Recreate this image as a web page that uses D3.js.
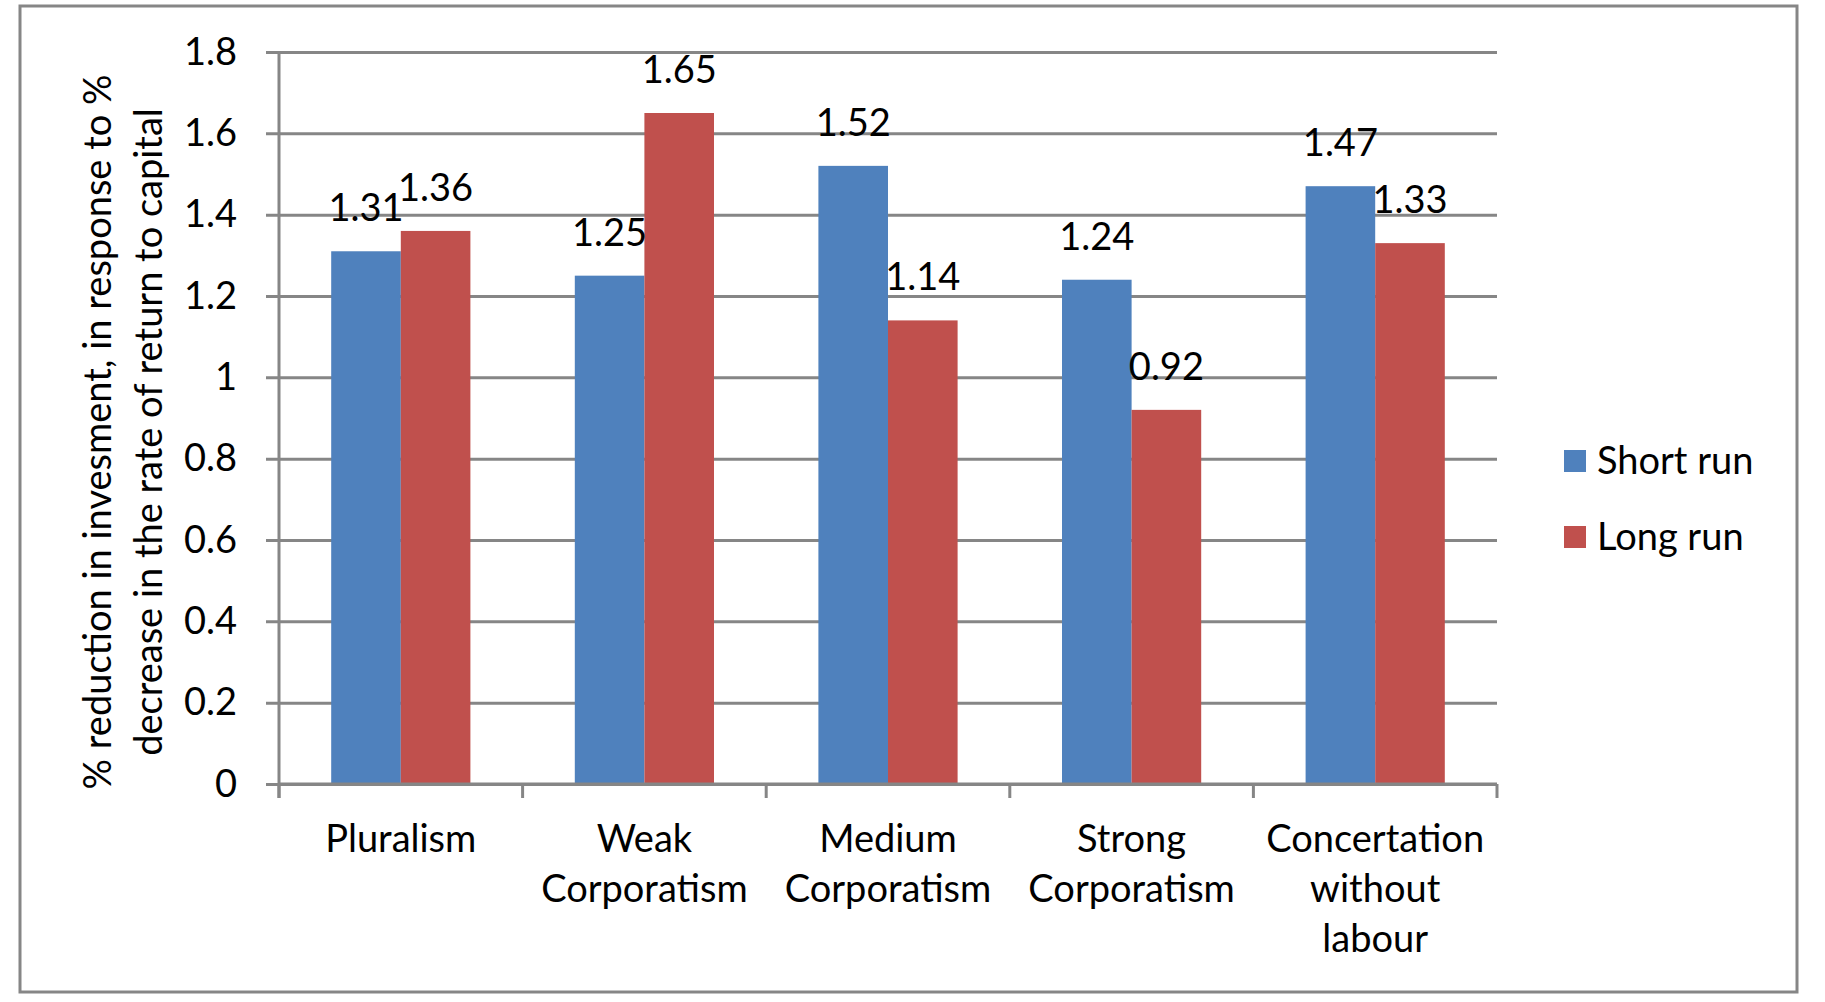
<!DOCTYPE html>
<html>
<head>
<meta charset="utf-8">
<script src="https://cdn.jsdelivr.net/npm/d3@7"></script>
<style>
  body { margin: 0; background: #fff; }
  text { font-family: Lato, "Open Sans", sans-serif; fill: #000; }
</style>
</head>
<body>
<div class="chart"></div>
<script>
// Data
const categories = ['Pluralism', 'Weak\nCorporatism', 'Medium\nCorporatism', 'Strong\nCorporatism', 'Concertation\nwithout\nlabour'];
const seriesNames = ['Short run', 'Long run'];
const shortRun = [1.31, 1.25, 1.52, 1.24, 1.47];
const longRun = [1.36, 1.65, 1.14, 0.92, 1.33];
const yTicks = [0, 0.2, 0.4, 0.6, 0.8, 1, 1.2, 1.4, 1.6, 1.8];
const yTitle = ['% reduction in invesment, in response to %', 'decrease in the rate of return to capital'];

const colors = ['#4F81BD', '#C0504D'];
const gridColor = '#868686';
const fontSize = 38;

const W = 1825, H = 1002;
const plot = { left: 279, right: 1497, top: 52, bottom: 784 };

const svg = d3.select('.chart')
  .append('svg')
  .attr('width', W)
  .attr('height', H);

// Outer frame
svg.append('rect')
  .attr('x', 20).attr('y', 6)
  .attr('width', 1797 - 20).attr('height', 992 - 6)
  .attr('fill', 'none')
  .attr('stroke', gridColor)
  .attr('stroke-width', 3);

// Scales
const x0 = d3.scaleBand().domain(categories).range([plot.left, plot.right]).padding(0);
const x1 = d3.scaleBand().domain(seriesNames).range([0, x0.bandwidth()]).paddingInner(0).paddingOuter(0.75);
const y = d3.scaleLinear().domain([0, 1.8]).range([plot.bottom, plot.top]);

// Y axis with gridlines (ticks stick out 13px to the left)
const yAxis = svg.append('g')
  .attr('transform', `translate(${plot.left - 13},0)`)
  .call(d3.axisLeft(y)
    .tickValues(yTicks)
    .tickSize(-(plot.right - plot.left + 13))
    .tickPadding(29)
    .tickFormat(d => String(+d.toFixed(1))));
yAxis.select('.domain').remove();
yAxis.selectAll('line').attr('stroke', gridColor).attr('stroke-width', 3);
yAxis.selectAll('text').attr('font-size', fontSize).attr('fill', '#000');

// Y axis title
const title = svg.append('text')
  .attr('transform', 'translate(124,432) rotate(-90)')
  .attr('text-anchor', 'middle')
  .attr('font-size', fontSize);
title.selectAll('tspan')
  .data(yTitle)
  .enter().append('tspan')
  .attr('x', 0)
  .attr('y', (d, i) => -13 + i * 51)
  .text(d => d);

// Bars
const rows = categories.map((c, i) => ({ cat: c, values: [shortRun[i], longRun[i]] }));

const groups = svg.selectAll('.cat')
  .data(rows)
  .enter().append('g')
  .attr('class', 'cat')
  .attr('transform', d => `translate(${x0(d.cat)},0)`);

groups.selectAll('rect')
  .data(d => d.values.map((v, j) => ({ name: seriesNames[j], v, j })))
  .enter().append('rect')
  .attr('x', d => x1(d.name))
  .attr('y', d => y(d.v))
  .attr('width', x1.bandwidth())
  .attr('height', d => y(0) - y(d.v))
  .attr('fill', d => colors[d.j]);

// Data labels
groups.selectAll('.lbl')
  .data(d => d.values.map((v, j) => ({ name: seriesNames[j], v })))
  .enter().append('text')
  .attr('class', 'lbl')
  .attr('x', d => x1(d.name) + x1.bandwidth() / 2)
  .attr('y', d => y(d.v) - 30)
  .attr('text-anchor', 'middle')
  .attr('font-size', fontSize)
  .text(d => d.v.toFixed(2));

// X axis: baseline, vertical axis line and boundary ticks
const axisG = svg.append('g')
  .attr('stroke', gridColor)
  .attr('stroke-width', 3);
axisG.append('line')
  .attr('x1', plot.left).attr('x2', plot.right)
  .attr('y1', y(0)).attr('y2', y(0));
axisG.append('line')
  .attr('x1', plot.left).attr('x2', plot.left)
  .attr('y1', y(1.8)).attr('y2', y(0) + 14);
axisG.selectAll('.tick')
  .data(categories.map(c => x0(c)).concat([plot.right]))
  .enter().append('line')
  .attr('x1', d => d).attr('x2', d => d)
  .attr('y1', y(0)).attr('y2', y(0) + 14);

// Category labels
svg.selectAll('.xlbl')
  .data(categories)
  .enter().append('text')
  .attr('class', 'xlbl')
  .attr('text-anchor', 'middle')
  .attr('font-size', fontSize)
  .each(function (d) {
    const t = d3.select(this);
    d.split('\n').forEach((line, i) => {
      t.append('tspan')
        .attr('x', x0(d) + x0.bandwidth() / 2)
        .attr('y', 852 + i * 50)
        .text(line);
    });
  });

// Legend
const legend = svg.selectAll('.legend')
  .data(seriesNames)
  .enter().append('g')
  .attr('class', 'legend')
  .attr('transform', (d, i) => `translate(1564,${450 + i * 76})`);
legend.append('rect')
  .attr('width', 22).attr('height', 22)
  .attr('fill', (d, i) => colors[i]);
legend.append('text')
  .attr('x', 33).attr('y', 24)
  .attr('font-size', fontSize)
  .text(d => d);
</script>
</body>
</html>
